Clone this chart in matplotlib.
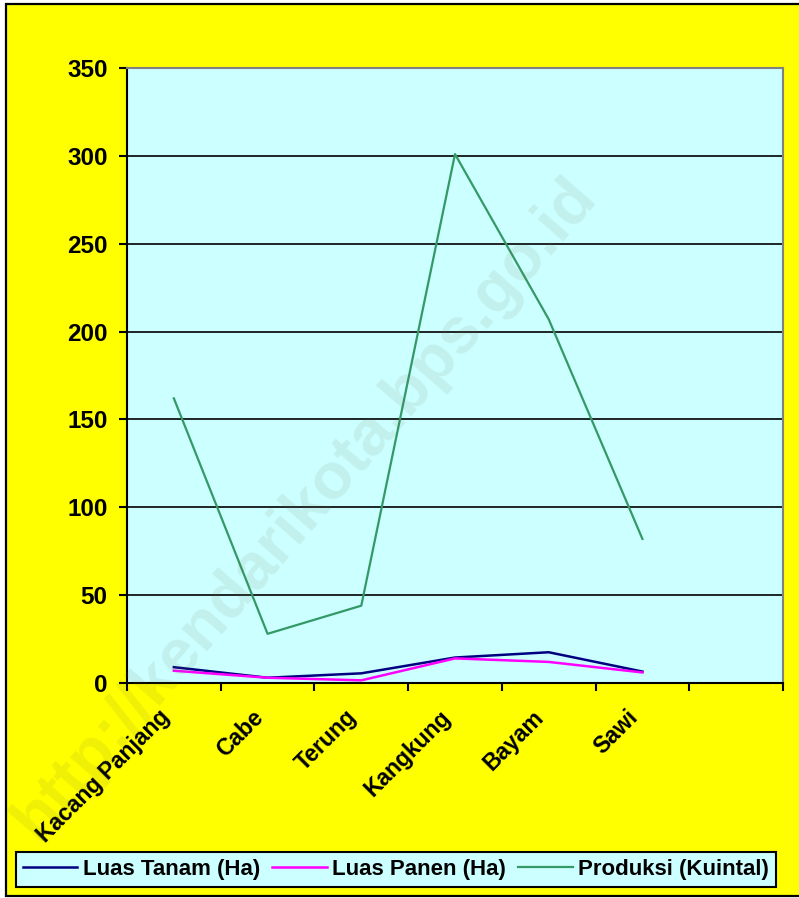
import matplotlib
matplotlib.use("Agg")
import matplotlib.pyplot as plt
from matplotlib.patches import Rectangle
from matplotlib.transforms import ScaledTranslation

# Data
categories = ["Kacang Panjang", "Cabe", "Terung", "Kangkung", "Bayam", "Sawi", ""]
luas_tanam = [9, 3, 5.5, 14.5, 17.5, 6.5]
luas_panen = [7, 3, 1.5, 14, 12, 6]
produksi = [162, 28, 44, 301, 207, 82]
y_ticks = [0, 50, 100, 150, 200, 250, 300, 350]

plt.rcParams['font.family'] = ['Liberation Sans', 'DejaVu Sans']
plt.rcParams['font.weight'] = 'bold'

W, H = 799, 898
fig = plt.figure(figsize=(W / 100, H / 100), dpi=100)
fig.patch.set_facecolor('white')

# yellow chart area with black frame
frame = Rectangle((6 / W, 1 - 896 / H), 1.0, (896 - 4) / H,
                  transform=fig.transFigure, facecolor='#FFFF00',
                  edgecolor='black', linewidth=1.6, zorder=-10)
fig.patches.append(frame)

ax = fig.add_axes([127 / W, 1 - 683 / H, (783 - 127) / W, (683 - 68) / H])
ax.set_facecolor('#CCFFFF')

x = list(range(len(luas_tanam)))
ax.plot(x, luas_tanam, color='#000080', lw=1.8, label='Luas Tanam (Ha)', zorder=4)
ax.plot(x, luas_panen, color='#FF00FF', lw=1.8, label='Luas Panen (Ha)', zorder=4)
ax.plot(x, produksi, color='#339966', lw=1.6, label='Produksi (Kuintal)', zorder=4)

ax.set_xlim(-0.5, len(categories) - 0.5)
ax.set_ylim(0, 350)
ax.set_yticks(y_ticks)
ax.yaxis.grid(True, color='black', lw=1.2)
ax.set_axisbelow(True)
ax.tick_params(axis='y', direction='out', length=6, width=1.5, pad=8,
               labelsize=17.5, color='black')
for t in ax.get_yticklabels():
    t.set_fontweight('bold')

# category boundaries as major ticks, names at minor ticks
ax.set_xticks([i - 0.5 for i in range(len(categories) + 1)])
ax.set_xticklabels([])
ax.set_xticks(range(len(categories)), categories, minor=True)
ax.tick_params(axis='x', which='major', direction='out', length=6, width=1.5)
ax.tick_params(axis='x', which='minor', length=0, pad=22, labelsize=16.5)
shift = ScaledTranslation(-8 / 100, 0, fig.dpi_scale_trans)
for t in ax.get_xticklabels(minor=True):
    t.set_rotation(45)
    t.set_ha('right')
    t.set_va('center')
    t.set_rotation_mode('anchor')
    t.set_fontweight('bold')
    t.set_transform(t.get_transform() + shift)

for side in ['left', 'bottom']:
    ax.spines[side].set_color('black')
    ax.spines[side].set_linewidth(1.5)
for side in ['top', 'right']:
    ax.spines[side].set_color('#808080')
    ax.spines[side].set_linewidth(1.5)

leg = fig.legend(loc='center', bbox_to_anchor=(396 / W, 1 - 869.5 / H), ncol=3,
                 fontsize=16, frameon=True, fancybox=False, handlelength=2.45,
                 handletextpad=0.25, columnspacing=0.55, borderpad=0.3,
                 borderaxespad=0)
leg.get_frame().set_facecolor('#CCFFFF')
leg.get_frame().set_edgecolor('black')
leg.get_frame().set_linewidth(1.5)
leg.get_frame().set_alpha(1)
for t in leg.get_texts():
    t.set_fontweight('bold')

# watermark
fig.text(305 / W, 1 - 508 / H, 'http://kendarikota.bps.go.id', rotation=49,
         ha='center', va='center', fontsize=47, fontweight='bold',
         color='#707050', alpha=0.1, zorder=10)

fig.savefig('out.png', dpi=100, facecolor=fig.get_facecolor())
